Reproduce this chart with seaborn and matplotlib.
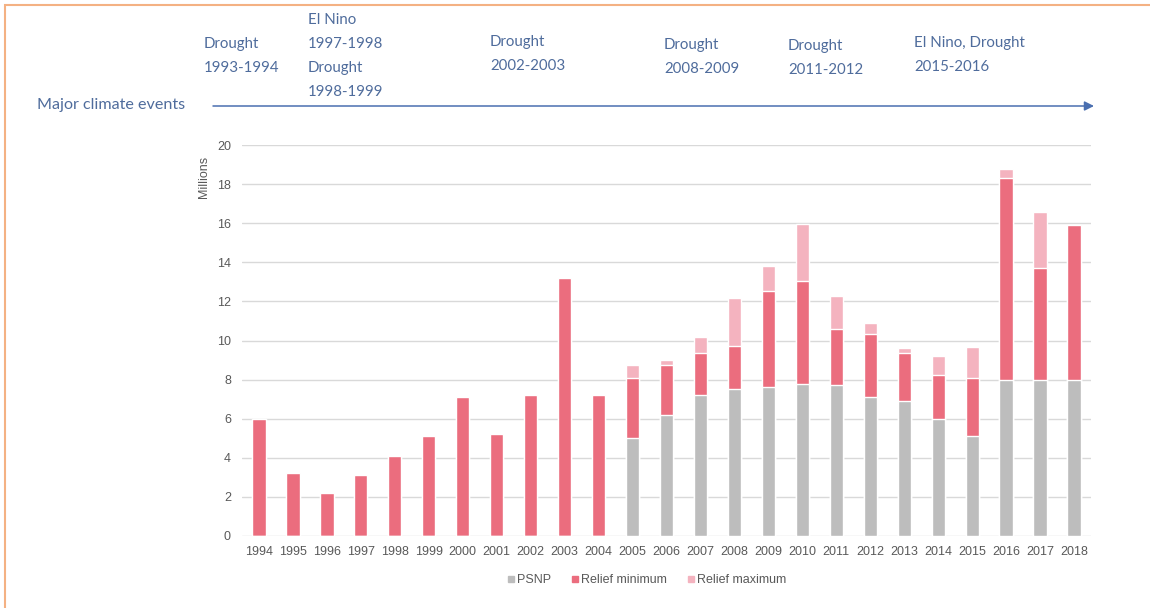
import matplotlib
matplotlib.use("Agg")
import matplotlib.pyplot as plt
import pandas as pd
import seaborn as sns
from matplotlib.lines import Line2D
from matplotlib.patches import Rectangle

# Values in millions
years = [str(y) for y in range(1994, 2019)]
psnp = [0, 0, 0, 0, 0, 0, 0, 0, 0, 0, 0,
        5.0, 6.2, 7.2, 7.5, 7.6, 7.8, 7.7, 7.1, 6.9, 6.0, 5.1, 8.0, 8.0, 8.0]
relief_min = [6.0, 3.2, 2.2, 3.1, 4.1, 5.1, 7.1, 5.2, 7.2, 13.2, 7.2,
              3.1, 2.55, 2.15, 2.2, 4.95, 5.25, 2.9, 3.25, 2.45, 2.25, 3.0, 10.3, 5.7, 7.9]
relief_max = [6.0, 3.2, 2.2, 3.1, 4.1, 5.1, 7.1, 5.2, 7.2, 13.2, 7.2,
              3.75, 2.8, 3.0, 4.65, 6.2, 8.15, 4.6, 3.8, 2.7, 3.2, 4.55, 10.75, 8.55, 7.9]

events = [
    ("Drought\n1993-1994", 204, 37),
    ("El Nino\n1997-1998\nDrought\n1998-1999", 308, 13),
    ("Drought\n2002-2003", 490, 35),
    ("Drought\n2008-2009", 664, 38),
    ("Drought\n2011-2012", 788, 39),
    ("El Nino, Drought\n2015-2016", 914, 36),
]

df = pd.DataFrame({"year": years, "psnp": psnp,
                   "relief_min": relief_min, "relief_max": relief_max})
df["top_max"] = df["psnp"] + df["relief_max"]
df["top_min"] = df["psnp"] + df["relief_min"]

c_psnp = "#BDBDBD"
c_min = "#EB6D7E"
c_max = "#F4B3BF"
c_text = "#4F6C9C"

sns.set_style("white")
plt.rcParams["font.family"] = ["Liberation Sans", "DejaVu Sans"]

W, H = 1150, 608
fig = plt.figure(figsize=(W / 100, H / 100), dpi=100)
ax = fig.add_axes([242 / W, 1 - 536 / H, (1091 - 242) / W, (536 - 145) / H])

# layered bars: drawn tallest first so each layer shows its own segment
for col, c in [("top_max", c_max), ("top_min", c_min), ("psnp", c_psnp)]:
    sns.barplot(df, x="year", y=col, color=c, width=0.39, saturation=1,
                ax=ax, zorder=3)

ax.set_ylim(0, 20)
ax.set_yticks(range(0, 21, 2))
ax.set_xlim(-0.5, len(years) - 0.5)
ax.yaxis.grid(True, color="#D9D9D9", linewidth=1, zorder=0)
ax.set_axisbelow(True)
sns.despine(ax=ax, left=True, bottom=True)
ax.tick_params(axis="both", length=0, labelsize=9, colors="#595959")
ax.tick_params(axis="y", pad=8)
ax.tick_params(axis="x", pad=7)
ax.set_xlabel("")
ax.set_ylabel("Millions", fontsize=9, color="#595959")
ax.yaxis.set_label_coords(-0.0377, 0.918)

handles = [Line2D([], [], marker="s", linestyle="none", markersize=5, color=c)
           for c in (c_psnp, c_min, c_max)]
fig.legend(handles, ["PSNP", "Relief minimum", "Relief maximum"],
           loc="center", bbox_to_anchor=(647 / W, 1 - 580 / H), ncol=3,
           frameon=False, fontsize=9, labelcolor="#595959",
           handlelength=0.6, handletextpad=0.2, columnspacing=1.6)

# climate events timeline
for label, x, y in events:
    fig.text(x / W, 1 - y / H, label, ha="left", va="top", color=c_text,
             fontsize=10.8, family=["Lato", "DejaVu Sans"], linespacing=1.9)
fig.text(37 / W, 1 - 105 / H, "Major climate events", ha="left", va="center",
         color=c_text, fontsize=11.6, family=["Lato", "DejaVu Sans"])
ax.annotate("", xy=(1094 / W, 1 - 106 / H), xytext=(213 / W, 1 - 106 / H),
            xycoords="figure fraction", textcoords="figure fraction",
            arrowprops=dict(arrowstyle="-|>", color="#4A6FB0", lw=1.1,
                            mutation_scale=14, shrinkA=0, shrinkB=0))

# frame around the figure
fig.add_artist(Rectangle((5 / W, -0.1), 1.2, 1 - 5 / H + 0.1,
                         transform=fig.transFigure, fill=False,
                         edgecolor="#F4B183", linewidth=1.5))

fig.savefig("out.png", dpi=100)
